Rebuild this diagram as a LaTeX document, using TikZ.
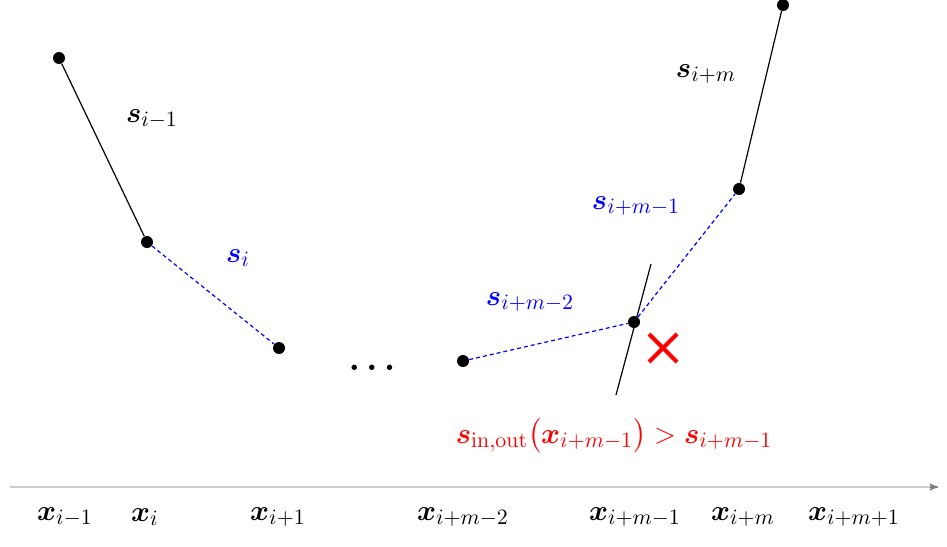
\documentclass[tikz,border=0pt]{standalone}
\usepackage{amsmath}
\usepackage{bm}
\usetikzlibrary{arrows}
\usetikzlibrary{positioning}
\usetikzlibrary{shapes.misc}

\begin{document}
\begin{tikzpicture}[x=0.5pt, y=-0.5pt, font=\fontsize{15.5}{18}\selectfont,
  knot/.style={circle, fill=black, minimum size=6pt, inner sep=0pt},
  seg/.style={line width=0.6pt},
  spl/.style={blue, line width=0.6pt, dash pattern=on 2pt off 1.5pt}]
          \useasboundingbox (0,0) rectangle (947,546);

          \node[knot] (p1) at (59,58) {};
          \node[knot] (p2) at (147,242) {};
          \node[knot] (p3) at (279,348) {};
          \node[font=\fontsize{18.5}{22}\selectfont] (dots) at (372,368) {\(\bm{\ldots}\)};
          \node[knot] (p4) at (463,361) {};
          \node[knot] (p5) at (634,322) {};
          \node[knot] (p6) at (739,189) {};
          \node[knot] (p7) at (783,5) {};

          \coordinate (tlo) at (616,395);
          \coordinate (thi) at (651,264);
          \node[cross out, draw=red, line width=2pt, minimum size=12pt, inner sep=0pt] (cross) at (663,348) {};

          \node (si1) at (152,119) {\(\bm{s}_{i-1}\)};
          \node[blue] (si) at (238,258) {\(\bm{s}_{i}\)};
          \node[blue] (sim2) at (530,302) {\(\bm{s}_{i+m-2}\)};
          \node[blue] (sim1) at (636,206) {\(\bm{s}_{i+m-1}\)};
          \node (sim) at (706,74) {\(\bm{s}_{i+m}\)};
          \node[red] (cond) at (614,436)
            {\(\bm{s}_{\mathrm{in,out}}\bigl(\bm{x}_{i+m-1}\bigr) > \bm{s}_{i+m-1}\)};

          \draw
          (p1) edge[seg] (p2)
          (p2) edge[spl] (p3)
          (p4) edge[spl] (p5)
          (p5) edge[spl] (p6)
          (p6) edge[seg] (p7)
          (tlo) edge[seg] (thi);

          % axis
          \coordinate (a0) at (10,487);
          \coordinate (a1) at (938,487);
          \coordinate (a2) at (930,487);
          \draw[gray!40, line width=0.6pt] (a0) -- (a1);
          \draw[gray, -stealth', line width=0.6pt] (a2) -- (a1);

          \node (xim1) at (65,517) {\(\bm{x}_{i-1}\)};
          \node (xi) at (145,517) {\(\bm{x}_{i}\)};
          \node (xip1) at (278,517) {\(\bm{x}_{i+1}\)};
          \node (ximm2) at (463,517) {\(\bm{x}_{i+m-2}\)};
          \node (ximm1) at (635,517) {\(\bm{x}_{i+m-1}\)};
          \node (xim) at (743,517) {\(\bm{x}_{i+m}\)};
          \node (ximp1) at (854,517) {\(\bm{x}_{i+m+1}\)};
        \end{tikzpicture}
\end{document}
